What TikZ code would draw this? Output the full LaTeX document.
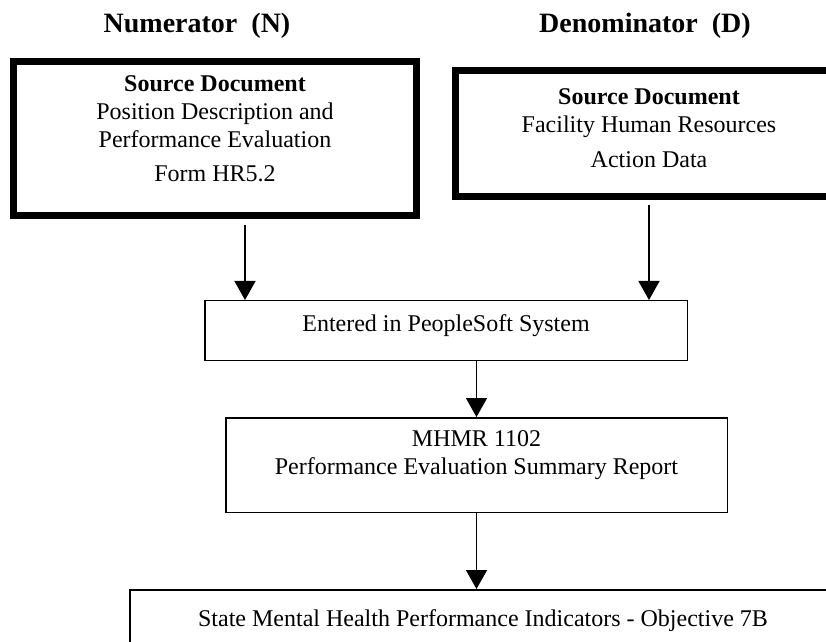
\documentclass[tikz,border=0pt]{standalone}
\usepackage{fontspec}
\setmainfont{Liberation Serif}
\usetikzlibrary{positioning, arrows.meta}

\begin{document}
\begin{tikzpicture}[
      x=0.5pt, y=-0.5pt,
      box_thick/.style={draw, line width=3.5pt, inner sep=0pt},
      box_thin/.style={draw, line width=0.75pt, inner sep=0pt},
      node_text/.style={inner sep=0pt, align=center, anchor=base, font=\fontsize{12}{14}\selectfont},
      node_title/.style={inner sep=0pt, anchor=base, font=\fontsize{14}{16}\selectfont\bfseries},
      edge_path/.style={-{Triangle[width=10.5pt, length=9.5pt]}, line width=0.75pt}
    ]
      \useasboundingbox (0,0) rectangle (826,642);
      \clip (0,0) rectangle (826,642);

      % headings
      \node[node_title] (Nt) at (197,33) {Numerator\ \ (N)};
      \node[node_title] (Dt) at (645,33) {Denominator\ \ (D)};

      % boxes
      \node[box_thick, minimum width=201.5pt, minimum height=77pt] (N) at (215,138.5) {};
      \node[box_thick, minimum width=193.5pt, minimum height=63pt] (D) at (649,133.5) {};
      \node[box_thin, minimum width=241.25pt, minimum height=29.75pt] (E) at (446,330.5) {};
      \node[box_thin, minimum width=250.75pt, minimum height=47.25pt] (M) at (476.5,465) {};
      \node[box_thin, minimum width=353.25pt, minimum height=50pt] (S) at (483,639.75) {};

      % box texts (base = last line)
      \node[node_text] (Nx) at ([yshift=-62pt]N.north) {\textbf{Source Document}\\Position Description and\\Performance Evaluation\\[3pt]Form HR5.2};
      \node[node_text] (Dx) at ([yshift=-50.5pt]D.north) {\textbf{Source Document}\\Facility Human Resources\\[3.5pt]Action Data};
      \node[node_text] (Ex) at ([yshift=-15.5pt]E.north) {Entered in PeopleSoft System};
      \node[node_text] (Mx) at ([yshift=-28.75pt]M.north) {MHMR 1102\\Performance Evaluation Summary Report};
      \node[node_text] (Sx) at ([yshift=-18.5pt]S.north) {State Mental Health Performance Indicators - Objective 7B};

      \coordinate (nin) at (245,0);
      \coordinate (din) at (649,0);

      \draw[edge_path, shorten <=3pt] (N.south -| nin) to (E.north -| nin);
      \draw[edge_path, shorten <=2.5pt] (D.south -| din) to (E.north -| din);
      \draw[edge_path] (E.south -| M.north) to (M.north);
      \draw[edge_path] (M.south) to (S.north -| M.south);
    \end{tikzpicture}
\end{document}
